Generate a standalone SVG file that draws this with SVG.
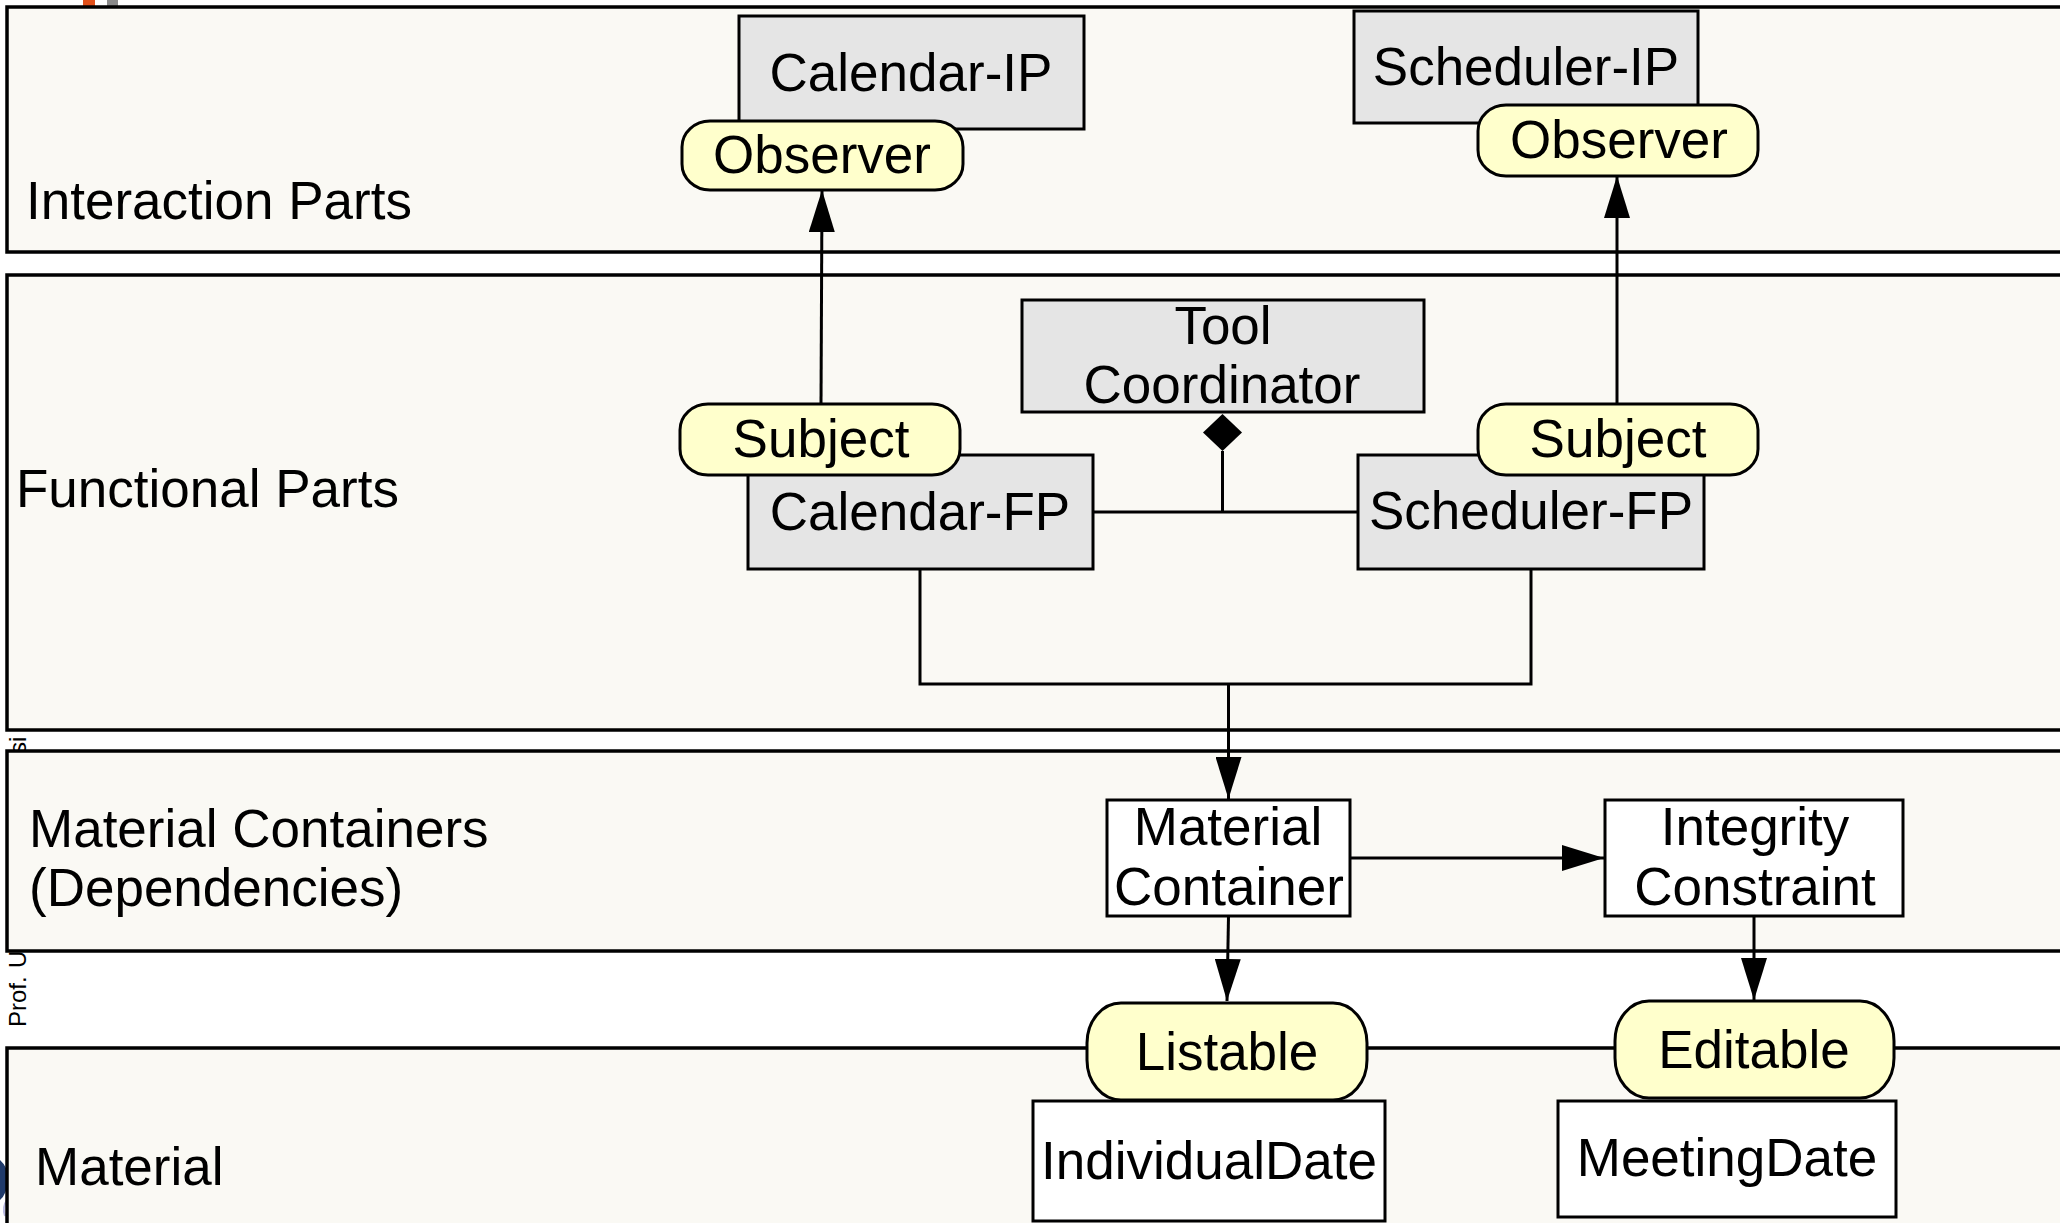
<svg xmlns="http://www.w3.org/2000/svg" width="2060" height="1223" viewBox="0 0 2060 1223">
  <style>
    .band { fill: #FAF9F4; stroke: #000; stroke-width: 3.5; }
    .box { fill: #E5E5E5; stroke: #000; stroke-width: 3; }
    .wbox { fill: #FFFFFF; stroke: #000; stroke-width: 3; }
    .pill { fill: #FFFFCC; stroke: #000; stroke-width: 3; }
    .lbl { font-family: "Liberation Sans", Arial, sans-serif; font-size: 53px; fill: #000; }
    .c { text-anchor: middle; }
    .edge { fill: none; stroke: #000; stroke-width: 3; }
    .side { font-family: "Liberation Sans", Arial, sans-serif; font-size: 24px; fill: #000; }
  </style>
  <defs>
    <marker id="arrow" viewBox="0 0 42 26" refX="42" refY="13" markerWidth="42" markerHeight="26" markerUnits="userSpaceOnUse" orient="auto">
      <path d="M0,0 L42,13 L0,26 Z" fill="#000"/>
    </marker>
  </defs>

  <rect x="0" y="0" width="2060" height="1223" fill="#FFFFFF"/>

  <!-- slide chrome fragments -->
  <rect x="83" y="0" width="12" height="7" fill="#E0501A"/>
  <rect x="107" y="0" width="11" height="7" fill="#8A8A8A"/>
  <text class="side" transform="translate(26,754) rotate(-90)">si</text>
  <text class="side" transform="translate(26,1027) rotate(-90)">Prof.</text>
  <text class="side" transform="translate(26,968) rotate(-90)">U</text>
  <path d="M0,1160 Q9,1168 8,1180 Q7,1194 0,1200 Z" fill="#1F3A6A"/>
  <path d="M7,1200 Q2,1207 5,1216" fill="none" stroke="#B8B8E0" stroke-width="2"/>

  <!-- layer bands -->
  <g id="layers">
    <rect class="band" x="7" y="7" width="2070" height="245"/>
    <rect class="band" x="7" y="275" width="2070" height="455"/>
    <rect class="band" x="7" y="751" width="2070" height="200"/>
    <rect class="band" x="7" y="1048" width="2070" height="200"/>
    <text class="lbl" x="26" y="219">Interaction Parts</text>
    <text class="lbl" x="16" y="507">Functional Parts</text>
    <text class="lbl" x="29" y="847">Material Containers</text>
    <text class="lbl" x="29" y="906">(Dependencies)</text>
    <text class="lbl" x="35" y="1185">Material</text>
  </g>

  <!-- connectors -->
  <g id="connectors">
    <line class="edge" x1="821" y1="404" x2="822" y2="190" marker-end="url(#arrow)"/>
    <line class="edge" x1="1617" y1="404" x2="1617" y2="176" marker-end="url(#arrow)"/>
    <polygon points="1222.5,414 1242,432.5 1222.5,451 1203,432.5" fill="#000"/>
    <line class="edge" x1="1222.5" y1="451" x2="1222.5" y2="512"/>
    <line class="edge" x1="1093" y1="512" x2="1358" y2="512"/>
    <polyline class="edge" points="920,569 920,684 1531,684 1531,569"/>
    <line class="edge" x1="1228.5" y1="684" x2="1228.5" y2="799" marker-end="url(#arrow)"/>
    <line class="edge" x1="1349.5" y1="858" x2="1604" y2="858" marker-end="url(#arrow)"/>
    <line class="edge" x1="1228.5" y1="916" x2="1227" y2="1001" marker-end="url(#arrow)"/>
    <line class="edge" x1="1754" y1="916" x2="1754" y2="1000" marker-end="url(#arrow)"/>
  </g>

  <!-- interaction parts -->
  <g id="calendar-ip">
    <rect class="box" x="739" y="16" width="345" height="113"/>
    <text class="lbl c" x="911" y="91">Calendar-IP</text>
  </g>
  <g id="calendar-ip-observer">
    <rect class="pill" x="682" y="121" width="281" height="69" rx="28" ry="26"/>
    <text class="lbl c" x="822" y="173">Observer</text>
  </g>
  <g id="scheduler-ip">
    <rect class="box" x="1354" y="11" width="344" height="112"/>
    <text class="lbl c" x="1526" y="85">Scheduler-IP</text>
  </g>
  <g id="scheduler-ip-observer">
    <rect class="pill" x="1478" y="105" width="280" height="71" rx="28" ry="26"/>
    <text class="lbl c" x="1619" y="158">Observer</text>
  </g>

  <!-- functional parts -->
  <g id="tool-coordinator">
    <rect class="box" x="1022" y="300" width="402" height="112"/>
    <text class="lbl c" x="1223" y="344">Tool</text>
    <text class="lbl c" x="1222" y="403">Coordinator</text>
  </g>
  <g id="calendar-fp">
    <rect class="box" x="748" y="455" width="345" height="114"/>
    <text class="lbl c" x="920" y="530">Calendar-FP</text>
  </g>
  <g id="calendar-fp-subject">
    <rect class="pill" x="680" y="404" width="280" height="71" rx="28" ry="26"/>
    <text class="lbl c" x="821" y="457">Subject</text>
  </g>
  <g id="scheduler-fp">
    <rect class="box" x="1358" y="455" width="346" height="114"/>
    <text class="lbl c" x="1531" y="529">Scheduler-FP</text>
  </g>
  <g id="scheduler-fp-subject">
    <rect class="pill" x="1478" y="404" width="280" height="71" rx="28" ry="26"/>
    <text class="lbl c" x="1618" y="457">Subject</text>
  </g>

  <!-- material containers -->
  <g id="material-container">
    <rect class="wbox" x="1107" y="800" width="243" height="116"/>
    <text class="lbl c" x="1228" y="845">Material</text>
    <text class="lbl c" x="1229" y="905">Container</text>
  </g>
  <g id="integrity-constraint">
    <rect class="wbox" x="1605" y="800" width="298" height="116"/>
    <text class="lbl c" x="1755" y="845">Integrity</text>
    <text class="lbl c" x="1755" y="905">Constraint</text>
  </g>

  <!-- material -->
  <g id="individual-date">
    <rect class="wbox" x="1033" y="1101" width="352" height="120"/>
    <text class="lbl c" x="1209" y="1179">IndividualDate</text>
  </g>
  <g id="listable">
    <rect class="pill" x="1087" y="1003" width="280" height="97" rx="34" ry="40"/>
    <text class="lbl c" x="1227" y="1070">Listable</text>
  </g>
  <g id="meeting-date">
    <rect class="wbox" x="1558" y="1101" width="338" height="116"/>
    <text class="lbl c" x="1727" y="1176">MeetingDate</text>
  </g>
  <g id="editable">
    <rect class="pill" x="1615" y="1001" width="279" height="97" rx="34" ry="40"/>
    <text class="lbl c" x="1754" y="1068">Editable</text>
  </g>
</svg>
